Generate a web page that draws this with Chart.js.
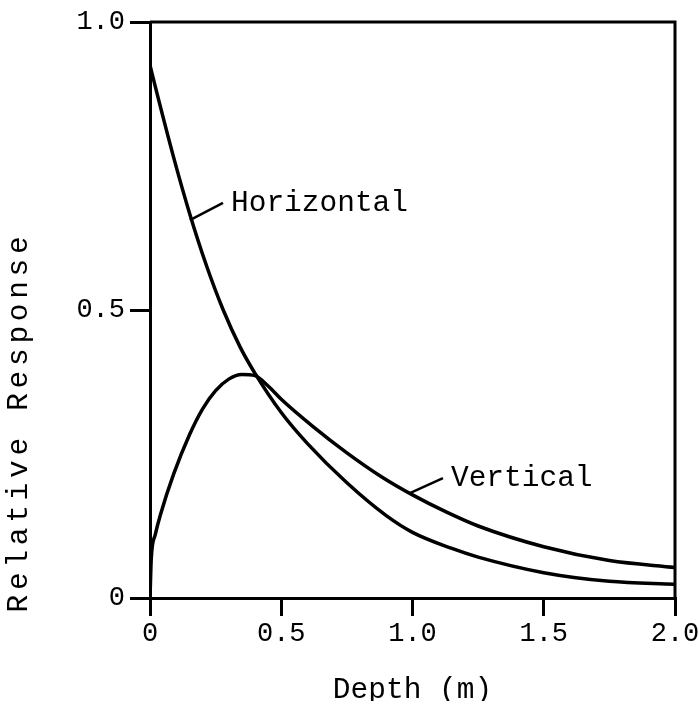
<!DOCTYPE html>
<html>
<head>
<meta charset="utf-8">
<script src="https://cdn.jsdelivr.net/npm/chart.js@4.4.1/dist/chart.umd.min.js"></script>
<style>
  html, body { margin: 0; padding: 0; background: #fff; overflow: hidden; }
  #chartDiv { width: 698px; height: 701px; overflow: hidden; }
</style>
</head>
<body>
<div id="chartDiv"><canvas id="myChart" width="730" height="701"></canvas></div>
<script>
const canvas = document.getElementById('myChart');

// values
const depthH = [0, 0.025, 0.09, 0.152, 0.216, 0.279, 0.343, 0.4, 0.5, 0.6, 0.75, 0.9, 1.0, 1.15, 1.25, 1.5, 1.75, 2.0];
const horizontal = [0.925, 0.879, 0.765, 0.666, 0.576, 0.500, 0.436, 0.390, 0.322, 0.268, 0.200, 0.143, 0.114, 0.086, 0.071, 0.044, 0.029, 0.024];
const depthV = [0, 0.005, 0.02, 0.04, 0.09, 0.15, 0.2, 0.25, 0.3, 0.35, 0.4, 0.45, 0.5, 0.62, 0.75, 0.88, 1.0, 1.13, 1.25, 1.5, 1.75, 2.0];
const vertical = [0, 0.07, 0.11, 0.145, 0.215, 0.283, 0.328, 0.36, 0.38, 0.388, 0.386, 0.368, 0.345, 0.298, 0.252, 0.211, 0.179, 0.149, 0.125, 0.089, 0.065, 0.053];
const xTickLabels = ['0', '0.5', '1.0', '1.5', '2.0'];
const yTickLabels = ['0', '0.5', '1.0'];
const xTitle = 'Depth (m)';
const yTitle = 'Relative Response';

const fontFamily = '"Liberation Mono", "DejaVu Sans Mono", monospace';
const ink = '#000';

// curve labels with leader lines, anchored in data units
const curveLabels = [
    { text: 'Horizontal', from: [0.152, 0.656], to: [0.278, 0.686] },
    { text: 'Vertical', from: [0.990, 0.182], to: [1.116, 0.208] }
];

const toPoints = (xs, ys) => xs.map((x, i) => ({ x: x, y: ys[i] }));

const framePlugin = {
    id: 'frame',
    afterDraw(chart) {
        const ctx = chart.ctx;
        const a = chart.chartArea;
        const xs = chart.scales.x;
        const ys = chart.scales.y;
        ctx.save();
        ctx.strokeStyle = ink;
        ctx.lineWidth = 3;
        ctx.beginPath();
        ctx.moveTo(a.left, a.top);
        ctx.lineTo(a.right, a.top);
        ctx.lineTo(a.right, a.bottom);
        ctx.stroke();

        // leader lines + curve names
        ctx.lineWidth = 2.5;
        ctx.fillStyle = ink;
        ctx.font = '29.5px ' + fontFamily;
        ctx.textBaseline = 'middle';
        ctx.textAlign = 'left';
        curveLabels.forEach(l => {
            const x1 = xs.getPixelForValue(l.from[0]), y1 = ys.getPixelForValue(l.from[1]);
            const x2 = xs.getPixelForValue(l.to[0]), y2 = ys.getPixelForValue(l.to[1]);
            ctx.beginPath();
            ctx.moveTo(x1, y1);
            ctx.lineTo(x2, y2);
            ctx.stroke();
            ctx.fillText(l.text, x2 + 8, y2);
        });

        // y axis title, typewriter spaced
        ctx.translate(19, 422);
        ctx.rotate(-Math.PI / 2);
        ctx.letterSpacing = '4.7px';
        ctx.textAlign = 'center';
        ctx.fillText(yTitle, 0, 0);
        ctx.restore();
    }
};

const dataConf = {
    datasets: [{
        label: 'Horizontal',
        data: toPoints(depthH, horizontal),
        borderColor: ink,
        borderWidth: 3.5,
        pointRadius: 0,
        cubicInterpolationMode: 'monotone'
    }, {
        label: 'Vertical',
        data: toPoints(depthV, vertical),
        borderColor: ink,
        borderWidth: 3.5,
        pointRadius: 0,
        cubicInterpolationMode: 'monotone'
    }]
};

const config = {
    type: 'line',
    data: dataConf,
    options: {
        responsive: false,
        animation: false,
        devicePixelRatio: 1,
        layout: {
            padding: { left: 0, top: 22, right: 55, bottom: 0 }
        },
        plugins: {
            legend: { display: false },
            tooltip: { enabled: false }
        },
        scales: {
            x: {
                type: 'linear',
                min: 0,
                max: 2,
                afterFit: s => { s.height = 103; },
                border: { display: true, color: ink, width: 3 },
                grid: { drawOnChartArea: false, drawTicks: true, tickLength: 18, color: ink, lineWidth: 3 },
                ticks: {
                    stepSize: 0.5,
                    maxRotation: 0,
                    padding: 2,
                    color: ink,
                    font: { family: fontFamily, size: 27 },
                    callback: (v, i) => xTickLabels[i]
                },
                title: {
                    display: true,
                    text: xTitle,
                    color: ink,
                    padding: 0,
                    font: { family: fontFamily, size: 29.5, lineHeight: 0.76 }
                }
            },
            y: {
                min: 0,
                max: 1,
                afterFit: s => { s.width = 150; },
                border: { display: true, color: ink, width: 3 },
                grid: { drawOnChartArea: false, drawTicks: true, tickLength: 20, color: ink, lineWidth: 3 },
                ticks: {
                    stepSize: 0.5,
                    padding: 5,
                    color: ink,
                    font: { family: fontFamily, size: 27 },
                    callback: (v, i) => yTickLabels[i]
                }
            }
        }
    },
    plugins: [framePlugin]
};

const myChart = new Chart(canvas, config);
</script>
</body>
</html>
